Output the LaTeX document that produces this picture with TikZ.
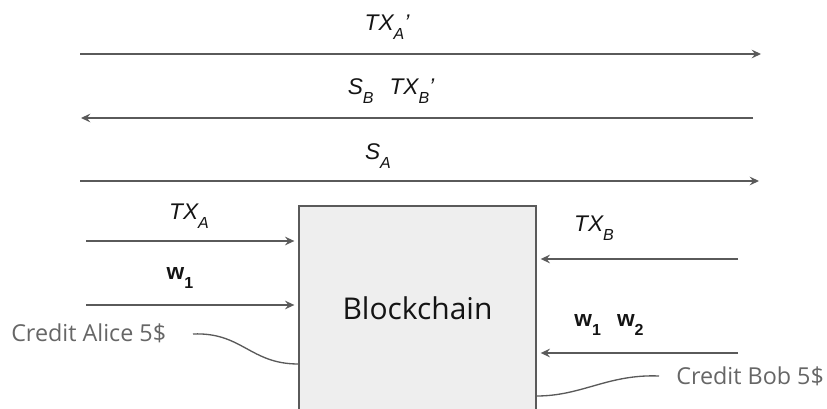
\documentclass[tikz,border=0pt]{standalone}
\usepackage{fontspec}
\setmainfont{Liberation Sans}
\newfontfamily\uifont{Open Sans}
\usetikzlibrary{arrows.meta}
\definecolor{ln}{HTML}{5A5A5A}
\definecolor{txt}{HTML}{141414}
\definecolor{cred}{HTML}{666666}
\definecolor{boxfill}{HTML}{EEEEEE}
\newcommand\sbs[1]{\raisebox{-7pt}{\fontsize{12}{12}\selectfont #1}}
\tikzset{
  arr/.style={draw=ln, line width=1pt, -{Stealth[length=7pt,width=6.5pt,inset=2.5pt]}},
  conn/.style={draw=ln, line width=1pt},
  lbl/.style={text=txt, font=\fontsize{17}{20}\selectfont\itshape, inner sep=0pt},
  wlbl/.style={text=txt, font=\fontsize{17}{20}\selectfont\bfseries, inner sep=0pt},
  credit/.style={text=cred, font=\uifont\fontsize{17.5}{20}\selectfont, inner sep=0pt},
  chain/.style={draw=ln, line width=1pt, fill=boxfill, minimum width=177.75pt, minimum height=153pt, inner sep=0pt, text=txt, font=\uifont\fontsize{22.5}{26}\selectfont}
}
\begin{document}
\begin{tikzpicture}[x=0.75pt,y=-0.75pt]
\useasboundingbox (0,0) rectangle (827,409);
\clip (0,0) rectangle (827,409);
% long arrows
\coordinate (a1s) at (80,54);  \coordinate (a1e) at (761,54);
\coordinate (a2s) at (753,118); \coordinate (a2e) at (81,118);
\coordinate (a3s) at (80,181); \coordinate (a3e) at (759,181);
\draw[arr] (a1s) -- (a1e);
\draw[arr] (a2s) -- (a2e);
\draw[arr] (a3s) -- (a3e);
\node[lbl] (l1) at (387,27) {TX\sbs{A}’};
\node[lbl] (l2) at (391,91) {S\sbs{B}\hspace{12pt}TX\sbs{B}’};
\node[lbl] (l3) at (378,156) {S\sbs{A}};
% blockchain box
\node[chain] (bc) at (417.5,308) {Blockchain};
% left inputs
\coordinate (ta) at (86,241);
\coordinate (wa) at (86,305);
\draw[arr] (ta) -- ([xshift=-3pt]bc.west |- ta);
\draw[arr] (wa) -- ([xshift=-3pt]bc.west |- wa);
\node[lbl] (lta) at (189,216) {TX\sbs{A}};
\node[wlbl] (lwa) at (180,278) {w\sbs{\bfseries 1}};
% right inputs
\coordinate (tb) at (738,259);
\coordinate (wb) at (738,353);
\draw[arr] (tb) -- ([xshift=3pt]bc.east |- tb);
\draw[arr] (wb) -- ([xshift=3pt]bc.east |- wb);
\node[lbl] (ltb) at (594,228) {TX\sbs{B}};
\node[wlbl] (lwb) at (609,325) {w\sbs{\bfseries 1}\hspace{12pt}w\sbs{\bfseries 2}};
% credits
\node[credit, anchor=west] (ca) at (11,333) {Credit Alice 5\$};
\node[credit, anchor=west] (cb) at (676,376) {Credit Bob 5\$};
\coordinate (cas) at (193,334);
\coordinate (cbs) at (659,376);
\coordinate (cae) at (bc.west |- 0,364);
\coordinate (cbe) at (bc.east |- 0,396);
\draw[conn] (cas) .. controls (242,332) and (250,364) .. (cae);
\draw[conn] (cbs) .. controls (608,374) and (582,396) .. (cbe);
\end{tikzpicture}
\end{document}
